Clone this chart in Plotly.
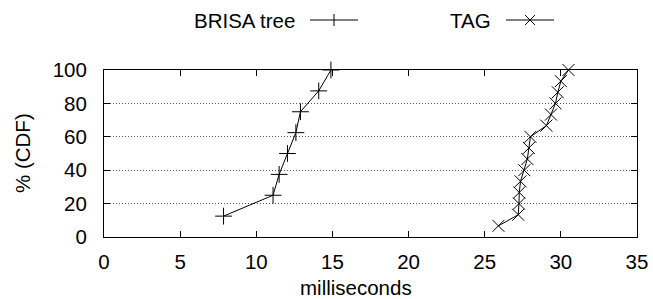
import plotly.graph_objects as go

# ---- data ----
brisa_ms = [7.85, 11.1, 11.5, 12.05, 12.6, 12.9, 14.1, 14.9]
brisa_cdf = [12.5, 25.0, 37.5, 50.0, 62.5, 75.0, 87.5, 100.0]

tag_ms = [25.9, 27.2, 27.25, 27.27, 27.35, 27.6, 27.8, 27.9, 28.0,
          29.05, 29.35, 29.65, 29.8, 30.0, 30.5]
tag_cdf = [6.67, 13.33, 20.0, 26.67, 33.33, 40.0, 46.67, 53.33, 60.0,
           66.67, 73.33, 80.0, 86.67, 93.33, 100.0]

x_ticks = [0, 5, 10, 15, 20, 25, 30, 35]
y_ticks = [0, 20, 40, 60, 80, 100]

series_names = ["BRISA tree", "TAG"]

FONT = "Liberation Sans, Arial, Helvetica, sans-serif"
FS = 20.5

fig = go.Figure()
fig.add_trace(go.Scatter(
    x=brisa_ms, y=brisa_cdf, mode="lines+markers", name=series_names[0],
    line=dict(color="black", width=1),
    marker=dict(symbol="cross-thin-open", size=12, line=dict(color="black", width=1)),
    showlegend=False, cliponaxis=False))
fig.add_trace(go.Scatter(
    x=tag_ms, y=tag_cdf, mode="lines+markers", name=series_names[1],
    line=dict(color="black", width=1),
    marker=dict(symbol="x-thin-open", size=12, line=dict(color="black", width=1)),
    showlegend=False, cliponaxis=False))

# plot area in pixels: x 104..637, y 70..237
L, R, T, B = 104, 637, 70, 237
W, H = R - L, B - T


def px(x):
    return (x - L) / W


def py(y):
    return (B - y) / H


shapes = []
annotations = []
# legend entries: text then sample
legend_items = [
    (series_names[0], 297, 310, 358, "+"),
    (series_names[1], 493, 506, 554, "x"),
]
ly = 20
for name, tx, x0, x1, sym in legend_items:
    annotations.append(dict(text=name, x=px(tx), y=py(ly), xref="paper", yref="paper",
                            xanchor="right", yanchor="middle", showarrow=False,
                            font=dict(family=FONT, size=FS, color="black")))
    shapes.append(dict(type="line", xref="paper", yref="paper", x0=px(x0), x1=px(x1),
                       y0=py(ly), y1=py(ly), line=dict(color="black", width=1)))
    cx = (x0 + x1) / 2
    s = 6
    if sym == "+":
        shapes.append(dict(type="line", xref="paper", yref="paper", x0=px(cx), x1=px(cx),
                           y0=py(ly - s), y1=py(ly + s), line=dict(color="black", width=1)))
    else:
        d = 5
        shapes.append(dict(type="line", xref="paper", yref="paper", x0=px(cx - d), x1=px(cx + d),
                           y0=py(ly - d), y1=py(ly + d), line=dict(color="black", width=1)))
        shapes.append(dict(type="line", xref="paper", yref="paper", x0=px(cx - d), x1=px(cx + d),
                           y0=py(ly + d), y1=py(ly - d), line=dict(color="black", width=1)))

annotations.append(dict(text="milliseconds", x=px(356), y=py(287), xref="paper", yref="paper",
                        xanchor="center", yanchor="middle", showarrow=False,
                        font=dict(family=FONT, size=FS, color="black")))
annotations.append(dict(text="% (CDF)", x=px(22), y=py(153), xref="paper", yref="paper",
                        xanchor="center", yanchor="middle", showarrow=False, textangle=-90,
                        font=dict(family=FONT, size=FS, color="black")))

fig.update_layout(
    width=653, height=299,
    margin=dict(l=L, r=653 - R, t=T, b=299 - B, pad=0, autoexpand=False),
    paper_bgcolor="white", plot_bgcolor="white",
    font=dict(family=FONT, size=FS, color="black"),
    shapes=shapes, annotations=annotations, showlegend=False,
)
fig.update_xaxes(
    range=[0, 35], tickvals=x_ticks, ticktext=[str(v) for v in x_ticks],
    ticks="inside", ticklen=6, tickcolor="black", tickwidth=1,
    showline=True, linecolor="black", linewidth=1, mirror="ticks",
    showgrid=False, zeroline=False, ticklabelstandoff=6, automargin=False,
)
fig.update_yaxes(
    range=[0, 100], tickvals=y_ticks, ticktext=[str(v) for v in y_ticks],
    ticks="inside", ticklen=6, tickcolor="black", tickwidth=1,
    showline=True, linecolor="black", linewidth=1, mirror="ticks",
    showgrid=True, gridcolor="#555555", gridwidth=1, griddash="1px,2px",
    zeroline=False, ticklabelstandoff=12, automargin=False,
)

fig.write_html(
    "out.html",
    config={"displayModeBar": False},
    post_script="document.body.style.margin='0';document.body.style.padding='0';",
)
